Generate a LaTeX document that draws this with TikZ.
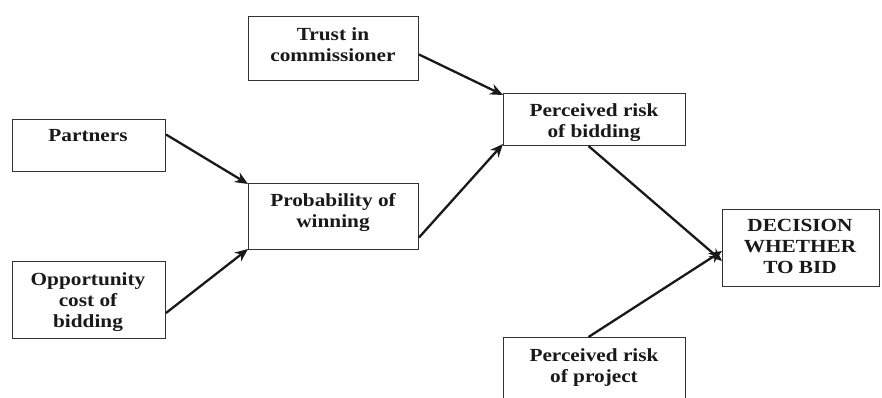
\documentclass[tikz,border=0pt]{standalone}
\usepackage{fontspec}
\setmainfont[FakeStretch=1.15]{Liberation Serif}
\usetikzlibrary{arrows.meta}
\begin{document}
\begin{tikzpicture}[x=1pt,y=-1pt,
  box/.style={draw=black!80, line width=1pt, anchor=north west, inner sep=0pt},
  lbl/.style={font=\bfseries\fontsize{18.5}{21}\selectfont, align=center, inner sep=0pt, anchor=north, text=black!90},
  arr/.style={-{Stealth[length=13pt,width=11pt]}, line width=2.3pt, draw=black!90}]
\useasboundingbox (0,0) rectangle (882,398);
% boxes
\node[box, minimum width=170pt, minimum height=64pt] (trust) at (248,16) {};
\node[box, minimum width=153pt, minimum height=52pt] (part) at (12,119) {};
\node[box, minimum width=153pt, minimum height=77pt] (opp) at (12,261) {};
\node[box, minimum width=170pt, minimum height=66pt] (prob) at (248,183) {};
\node[box, minimum width=182pt, minimum height=52pt] (prb) at (503,93) {};
\node[box, minimum width=157pt, minimum height=77pt] (dec) at (722,209) {};
\node[box, minimum width=182pt, minimum height=70pt] (prp) at (503,337) {};
% labels
\node[lbl] (trustT) at (333,27) {Trust in\\commissioner};
\node[lbl] (partT) at (88,129) {Partners};
\node[lbl] (oppT) at (88,272) {Opportunity\\cost of\\bidding};
\node[lbl] (probT) at (333,193) {Probability of\\winning};
\node[lbl] (prbT) at (594,103) {Perceived risk\\of bidding};
\node[lbl] (decT) at (800,219) {DECISION\\WHETHER\\TO BID};
\node[lbl] (prpT) at (594,348) {Perceived risk\\of project};
% connectors
\draw[arr] ([yshift=-6pt]trust.east) -- ([yshift=-2pt]prb.north west);
\draw[arr] ([yshift=11pt]part.east) -- ([yshift=-1pt]prob.north west);
\draw[arr] ([yshift=-13pt]opp.east) -- ([yshift=1pt]prob.south west);
\draw[arr] ([yshift=-21pt]prob.east) -- ([yshift=2pt]prb.south west);
\draw[arr] ([xshift=-6pt]prb.south) -- ([yshift=-13pt]dec.west);
\draw[arr] ([xshift=-6pt]prp.north) -- ([yshift=-3pt]dec.west);
\end{tikzpicture}
\end{document}
